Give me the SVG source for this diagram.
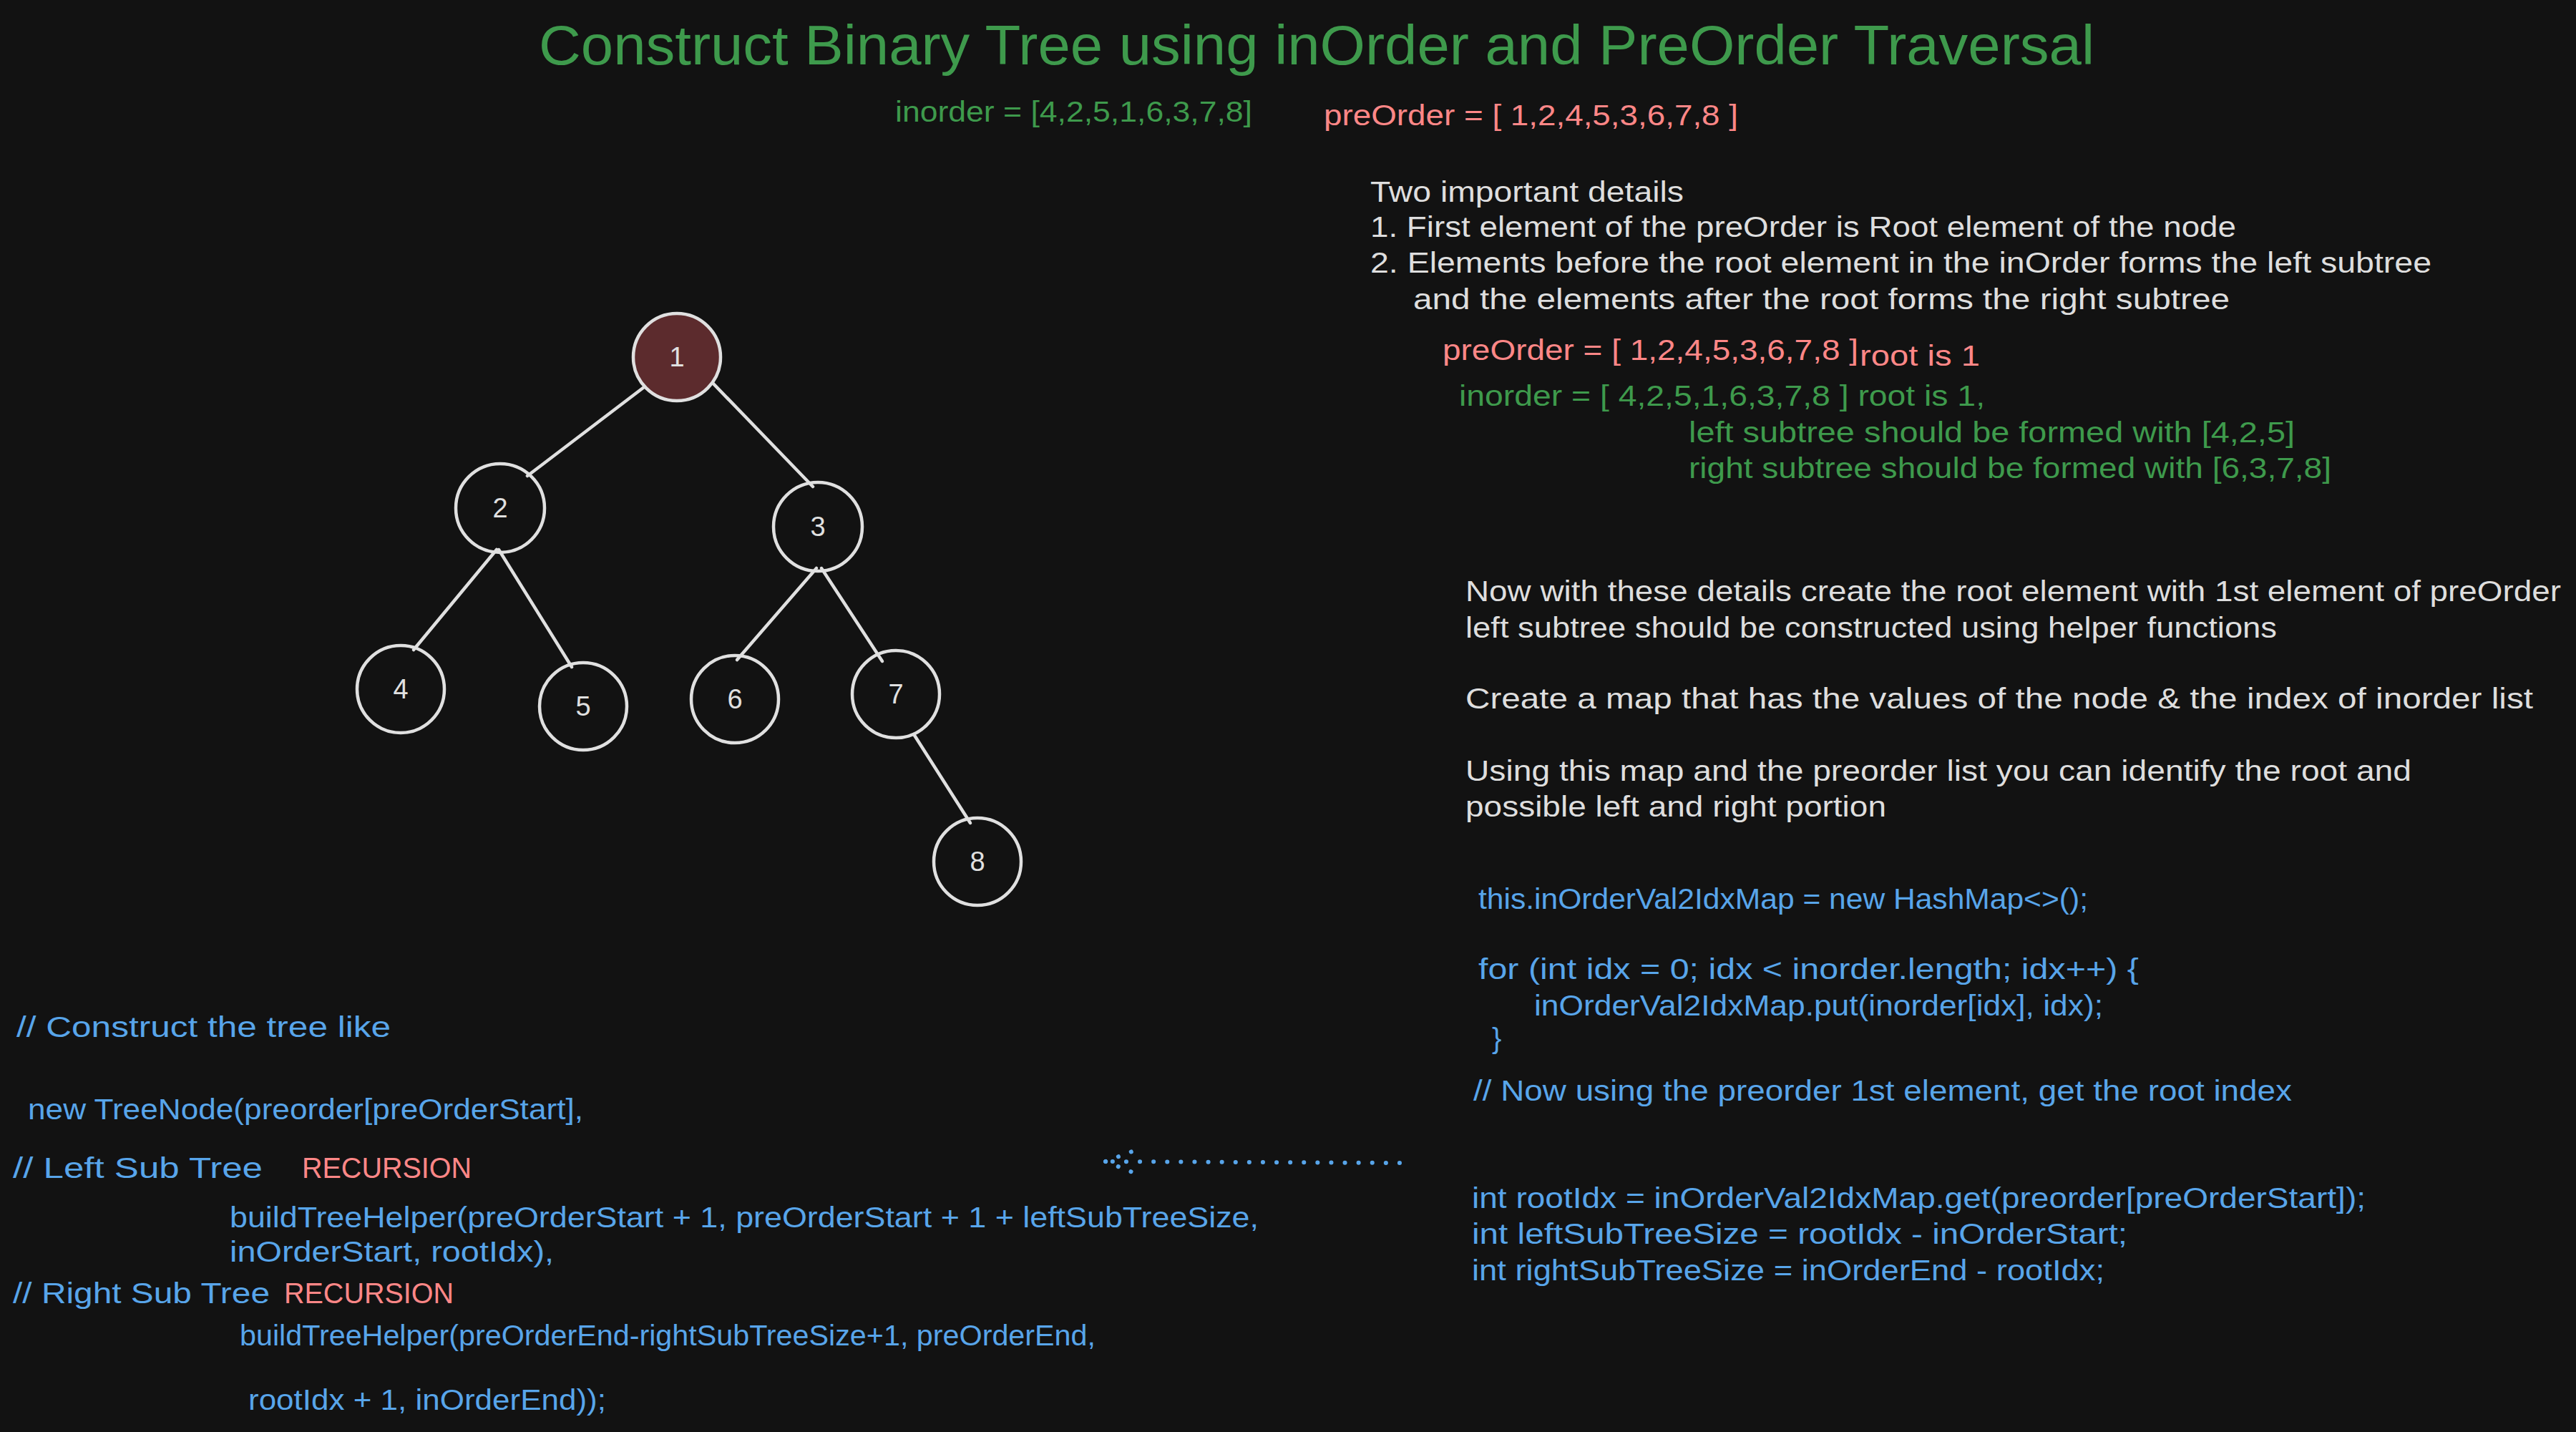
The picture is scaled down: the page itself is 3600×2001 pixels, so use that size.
<svg xmlns="http://www.w3.org/2000/svg" width="3600" height="2001" viewBox="0 0 3600 2001">
<defs>
<style>
text{font-family:"Liberation Sans",Arial,sans-serif;font-size:40px}
.w{fill:#dedede}.g{fill:#3e9a4c}.r{fill:#ff8787}.b{fill:#58a5ea}
.title{font-size:78px}
.node circle{fill:none;stroke:#e0e0e0;stroke-width:4.5}
.node text{fill:#e0e0e0;font-size:38px;text-anchor:middle;dominant-baseline:central}
.edge{stroke:#e0e0e0;stroke-width:4.5;stroke-linecap:round;fill:none}
.dots{stroke:#58a5ea;stroke-width:6;stroke-linecap:round;stroke-dasharray:0.1 19;fill:none}
</style>
</defs>
<rect width="3600" height="2001" fill="#121212"/>

<g id="texts">
<text class="g title" x="753" y="90" textLength="2174" lengthAdjust="spacingAndGlyphs">Construct Binary Tree using inOrder and PreOrder Traversal</text>
<text class="g" x="1251" y="170" textLength="499" lengthAdjust="spacingAndGlyphs">inorder = [4,2,5,1,6,3,7,8]</text>
<text class="r" x="1850" y="175" textLength="579" lengthAdjust="spacingAndGlyphs">preOrder = [ 1,2,4,5,3,6,7,8 ]</text>

<text class="w" x="1915" y="282" textLength="438" lengthAdjust="spacingAndGlyphs">Two important details</text>
<text class="w" x="1915" y="331" textLength="1210" lengthAdjust="spacingAndGlyphs">1. First element of the preOrder is Root element of the node</text>
<text class="w" x="1915" y="381" textLength="1483" lengthAdjust="spacingAndGlyphs">2. Elements before the root element in the inOrder forms the left subtree</text>
<text class="w" x="1975" y="432" textLength="1141" lengthAdjust="spacingAndGlyphs">and the elements after the root forms the right subtree</text>

<text class="r" x="2016" y="503" textLength="581" lengthAdjust="spacingAndGlyphs">preOrder = [ 1,2,4,5,3,6,7,8 ]</text>
<text class="r" x="2599" y="511" textLength="168" lengthAdjust="spacingAndGlyphs">root is 1</text>
<text class="g" x="2039" y="567" textLength="735" lengthAdjust="spacingAndGlyphs">inorder = [ 4,2,5,1,6,3,7,8 ] root is 1,</text>
<text class="g" x="2360" y="618" textLength="847" lengthAdjust="spacingAndGlyphs">left subtree should be formed with [4,2,5]</text>
<text class="g" x="2360" y="668" textLength="898" lengthAdjust="spacingAndGlyphs">right subtree should be formed with [6,3,7,8]</text>

<text class="w" x="2048" y="840" textLength="1531" lengthAdjust="spacingAndGlyphs">Now with these details create the root element with 1st element of preOrder</text>
<text class="w" x="2048" y="891" textLength="1134" lengthAdjust="spacingAndGlyphs">left subtree should be constructed using helper functions</text>
<text class="w" x="2048" y="990" textLength="1492" lengthAdjust="spacingAndGlyphs">Create a map that has the values of the node &amp; the index of inorder list</text>
<text class="w" x="2048" y="1091" textLength="1322" lengthAdjust="spacingAndGlyphs">Using this map and the preorder list you can identify the root and</text>
<text class="w" x="2048" y="1141" textLength="588" lengthAdjust="spacingAndGlyphs">possible left and right portion</text>

<text class="b" x="2066" y="1270" textLength="852" lengthAdjust="spacingAndGlyphs">this.inOrderVal2IdxMap = new HashMap&lt;&gt;();</text>
<text class="b" x="2066" y="1368" textLength="923" lengthAdjust="spacingAndGlyphs">for (int idx = 0; idx &lt; inorder.length; idx++) {</text>
<text class="b" x="2144" y="1419" textLength="795" lengthAdjust="spacingAndGlyphs">inOrderVal2IdxMap.put(inorder[idx], idx);</text>
<text class="b" x="2085" y="1465">}</text>
<text class="b" x="2059" y="1538" textLength="1144" lengthAdjust="spacingAndGlyphs">// Now using the preorder 1st element, get the root index</text>
<text class="b" x="2057" y="1688" textLength="1249" lengthAdjust="spacingAndGlyphs">int rootIdx = inOrderVal2IdxMap.get(preorder[preOrderStart]);</text>
<text class="b" x="2057" y="1738" textLength="916" lengthAdjust="spacingAndGlyphs">int leftSubTreeSize = rootIdx - inOrderStart;</text>
<text class="b" x="2057" y="1789" textLength="884" lengthAdjust="spacingAndGlyphs">int rightSubTreeSize = inOrderEnd - rootIdx;</text>

<text class="b" x="23" y="1449" textLength="523" lengthAdjust="spacingAndGlyphs">// Construct the tree like</text>
<text class="b" x="39" y="1564" textLength="776" lengthAdjust="spacingAndGlyphs">new TreeNode(preorder[preOrderStart],</text>
<text class="b" x="18" y="1646" textLength="349" lengthAdjust="spacingAndGlyphs">// Left Sub Tree</text>
<text class="r" x="422" y="1646" textLength="237" lengthAdjust="spacingAndGlyphs">RECURSION</text>
<text class="b" x="321" y="1715" textLength="1438" lengthAdjust="spacingAndGlyphs">buildTreeHelper(preOrderStart + 1, preOrderStart + 1 + leftSubTreeSize,</text>
<text class="b" x="321" y="1763" textLength="453" lengthAdjust="spacingAndGlyphs">inOrderStart, rootIdx),</text>
<text class="b" x="18" y="1821" textLength="359" lengthAdjust="spacingAndGlyphs">// Right Sub Tree</text>
<text class="r" x="397" y="1821" textLength="237" lengthAdjust="spacingAndGlyphs">RECURSION</text>
<text class="b" x="335" y="1880" textLength="1196" lengthAdjust="spacingAndGlyphs">buildTreeHelper(preOrderEnd-rightSubTreeSize+1, preOrderEnd,</text>
<text class="b" x="347" y="1970" textLength="500" lengthAdjust="spacingAndGlyphs">rootIdx + 1, inOrderEnd));</text>
</g>

<g id="connectors">
<line class="edge" x1="900" y1="541" x2="737" y2="665"/>
<line class="edge" x1="992" y1="531" x2="1136" y2="680"/>
<line class="edge" x1="694" y1="768" x2="578" y2="908"/>
<line class="edge" x1="697" y1="768" x2="799" y2="932"/>
<line class="edge" x1="1141" y1="794" x2="1030" y2="922"/>
<line class="edge" x1="1148" y1="794" x2="1233" y2="924"/>
<line class="edge" x1="1277" y1="1026" x2="1356" y2="1150"/>
<g id="dotted-arrow">
<line class="dots" x1="1956" y1="1625" x2="1545" y2="1623"/>
<line class="dots" x1="1545" y1="1623" x2="1590" y2="1606"/>
<line class="dots" x1="1545" y1="1623" x2="1590" y2="1641"/>
</g>
</g>

<g id="node-1" class="node"><circle cx="946" cy="499" r="61" style="fill:#5c2b2d"/><text x="946" y="499">1</text></g>
<g id="node-2" class="node"><circle cx="699" cy="710" r="62"/><text x="699" y="710">2</text></g>
<g id="node-3" class="node"><circle cx="1143" cy="736" r="62"/><text x="1143" y="736">3</text></g>
<g id="node-4" class="node"><circle cx="560" cy="963" r="61"/><text x="560" y="963">4</text></g>
<g id="node-5" class="node"><circle cx="815" cy="987" r="61"/><text x="815" y="987">5</text></g>
<g id="node-6" class="node"><circle cx="1027" cy="977" r="61"/><text x="1027" y="977">6</text></g>
<g id="node-7" class="node"><circle cx="1252" cy="970" r="61"/><text x="1252" y="970">7</text></g>
<g id="node-8" class="node"><circle cx="1366" cy="1204" r="61"/><text x="1366" y="1204">8</text></g>
</svg>
